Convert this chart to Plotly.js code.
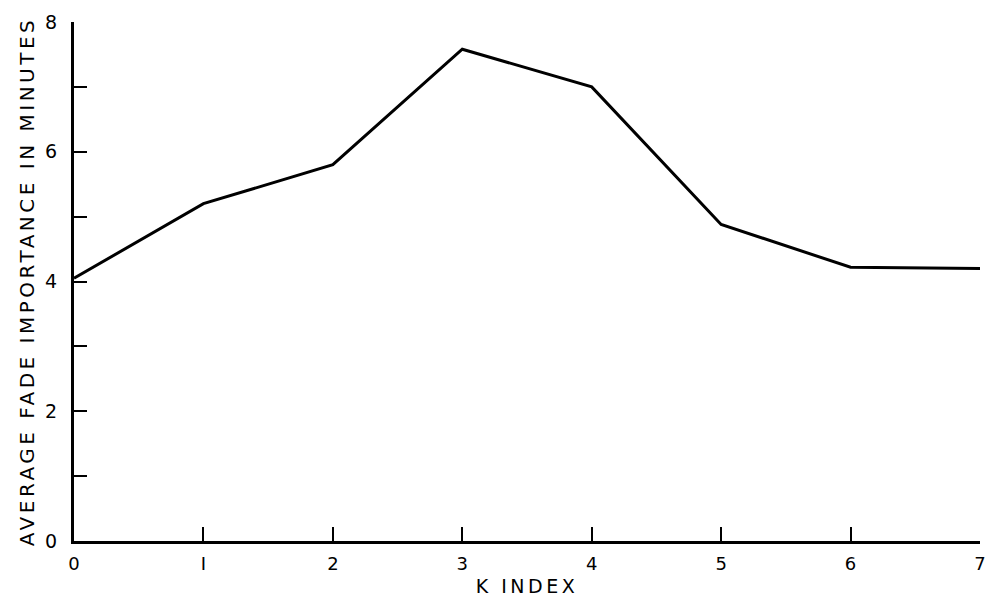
<!DOCTYPE html>
<html><head><meta charset="utf-8">
<script src="https://cdn.plot.ly/plotly-3.0.1.min.js"></script>
<style>
body{margin:0;background:#fff;}
.xtitle{letter-spacing:3.5px;}
.ytitle{letter-spacing:3.5px;}
</style>
</head><body>
<div id="chart" style="width:998px;height:607px;"></div>
<script>
const kIndex = [0, 1, 2, 3, 4, 5, 6, 7];
const fadeMinutes = [4.05, 5.2, 5.8, 7.58, 7.0, 4.88, 4.22, 4.2];
const xTickVals = [0, 1, 2, 3, 4, 5, 6, 7];
const xTickText = ['0', 'I', '2', '3', '4', '5', '6', '7'];
const yTickVals = [0, 1, 2, 3, 4, 5, 6, 7, 8];
const yTickText = ['0', '', '2', '', '4', '', '6', '', '8'];

const font = {family: 'DejaVu Sans, sans-serif', color: '#000'};
Plotly.newPlot('chart', [{
  x: kIndex, y: fadeMinutes, type: 'scatter', mode: 'lines',
  line: {color: '#000', width: 3}, hoverinfo: 'skip'
}], {
  width: 998, height: 607,
  margin: {l: 74, r: 18, t: 22, b: 66},
  paper_bgcolor: '#fff', plot_bgcolor: '#fff',
  showlegend: false,
  xaxis: {
    range: [0, 7], showgrid: false, zeroline: false,
    showline: true, linecolor: '#000', linewidth: 3,
    tickmode: 'array', tickvals: xTickVals, ticktext: xTickText,
    ticks: 'inside', ticklen: 14, tickwidth: 2, tickcolor: '#000',
    tickfont: Object.assign({size: 18}, font),
    ticklabelstandoff: 4,
    title: {text: 'K INDEX', font: Object.assign({size: 19}, font), standoff: 8}
  },
  yaxis: {
    range: [0, 8], showgrid: false, zeroline: false,
    showline: true, linecolor: '#000', linewidth: 3,
    tickmode: 'array', tickvals: yTickVals, ticktext: yTickText,
    ticks: 'inside', ticklen: 13, tickwidth: 2, tickcolor: '#000',
    tickfont: Object.assign({size: 19}, font),
    ticklabelstandoff: 10,
    title: {text: 'AVERAGE FADE IMPORTANCE IN MINUTES', font: Object.assign({size: 20}, font), standoff: 6}
  }
}, {displayModeBar: false, staticPlot: true});
</script>
</body></html>
